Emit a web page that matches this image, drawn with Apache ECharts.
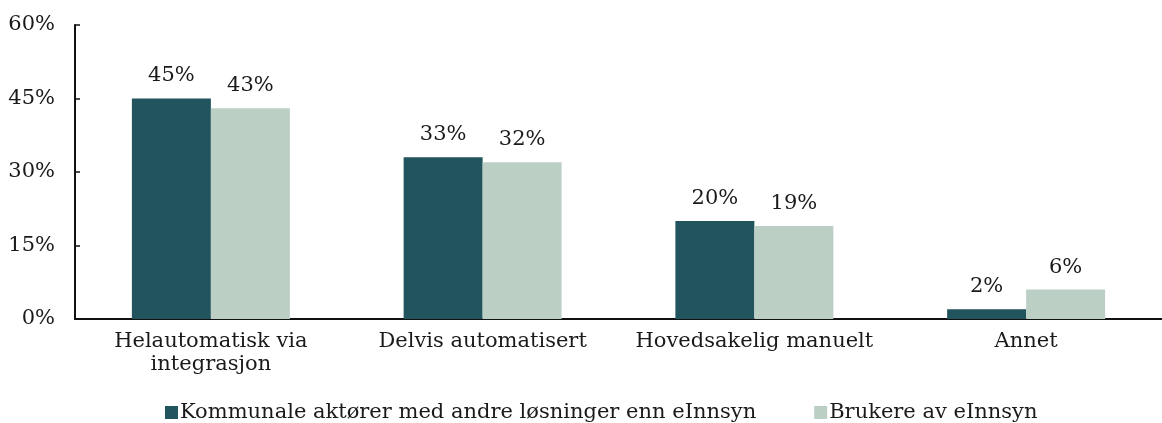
<!DOCTYPE html>
<html>
<head>
<meta charset="utf-8">
<script src="https://cdn.jsdelivr.net/npm/echarts@6/dist/echarts.min.js"></script>
<style>
  html, body { margin: 0; padding: 0; background: #fff; }
  #chart { width: 1162px; height: 423px; }
</style>
</head>
<body>
<div id="chart"></div>
<script>
// Arbeidsform ved publisering av postjournal
const categories = ['Helautomatisk via\nintegrasjon', 'Delvis automatisert', 'Hovedsakelig manuelt', 'Annet'];
const seriesNames = ['Kommunale aktører med andre løsninger enn eInnsyn', 'Brukere av eInnsyn'];
const kommunale = [45, 33, 20, 2];
const brukere = [43, 32, 19, 6];
const yTicks = [0, 15, 30, 45, 60];

const FONT = 'DejaVu Serif';
const SIZE = 21;
const TEXT = '#1a1a1a';
const DARK = '#22545e';
const LIGHT = '#bccfc5';

const chart = echarts.init(document.getElementById('chart'), null, { renderer: 'canvas' });

const barLabel = {
  show: true,
  position: 'top',
  distance: 12,
  fontFamily: FONT,
  fontSize: SIZE,
  color: TEXT,
  formatter: p => p.value + '%'
};

chart.setOption({
  animation: false,
  textStyle: { fontFamily: FONT },
  grid: { left: 75, right: 0, top: 25, bottom: 104, containLabel: false },
  legend: {
    bottom: -5,
    left: 160,
    itemWidth: 13,
    itemHeight: 13,
    itemGap: 58,
    icon: 'rect',
    textStyle: { fontFamily: FONT, fontSize: SIZE, color: TEXT, padding: [0, 0, 0, -3] },
    data: seriesNames
  },
  xAxis: {
    type: 'category',
    data: categories,
    axisLine: { lineStyle: { color: '#111', width: 2 } },
    axisTick: { show: false },
    axisLabel: {
      fontFamily: FONT, fontSize: SIZE, color: TEXT,
      margin: 11, lineHeight: 23, interval: 0
    }
  },
  yAxis: {
    type: 'value',
    min: yTicks[0],
    max: yTicks[yTicks.length - 1],
    interval: 15,
    axisLine: { show: true, lineStyle: { color: '#111', width: 2 } },
    axisTick: { show: true, inside: true, length: 5, lineStyle: { color: '#111', width: 1.5 } },
    splitLine: { show: false },
    axisLabel: {
      fontFamily: FONT, fontSize: SIZE, color: TEXT, margin: 20,
      formatter: v => v + '%'
    }
  },
  series: [
    {
      name: seriesNames[0],
      type: 'bar',
      data: kommunale,
      barWidth: 79,
      barGap: '0%',
      itemStyle: { color: DARK },
      label: barLabel
    },
    {
      name: seriesNames[1],
      type: 'bar',
      data: brukere,
      barWidth: 79,
      barGap: '0%',
      itemStyle: { color: LIGHT },
      label: barLabel
    }
  ]
});
</script>
</body>
</html>
